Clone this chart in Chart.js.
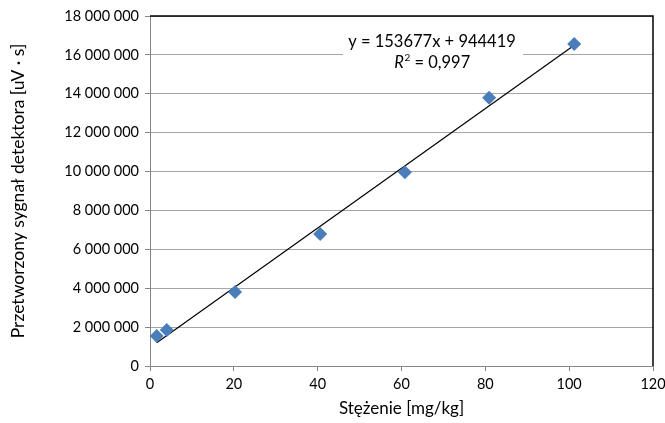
<!DOCTYPE html>
<html>
<head>
<meta charset="utf-8">
<script src="https://cdn.jsdelivr.net/npm/chart.js@4/dist/chart.umd.min.js"></script>
<style>
  html, body { margin: 0; padding: 0; background: #fff; }
  #wrap { width: 665px; height: 423px; }
</style>
</head>
<body>
<div id="wrap"><canvas id="myChart"></canvas></div>
<script>
// measured points (concentration vs detector signal)
const concX = [1.6, 4.0, 20.3, 40.6, 60.8, 80.9, 101.2];
const signalY = [1540000, 1850000, 3800000, 6790000, 9970000, 13800000, 16560000];
// trendline end points
const trendX = [1.6, 101.2];
const trendY = [1190000, 16500000];
const yTicks = [0, 2000000, 4000000, 6000000, 8000000, 10000000, 12000000, 14000000, 16000000, 18000000];
const eqLine1 = 'y = 153677x + 944419';
const eqLine2 = '0,997';

const FONT = 'Lato, "Open Sans", sans-serif';

function fmt(v) {
    return String(v).replace(/\B(?=(\d{3})+(?!\d))/g, ' ');
}

// black frame on top and right side of plot area
const framePlugin = {
    id: 'frame',
    afterDraw(chart) {
        const { ctx, chartArea: a } = chart;
        ctx.save();
        ctx.strokeStyle = '#000';
        ctx.lineWidth = 1.5;
        ctx.beginPath();
        ctx.moveTo(a.left, a.top);
        ctx.lineTo(a.right, a.top);
        ctx.lineTo(a.right, a.bottom);
        ctx.stroke();
        ctx.restore();
    }
};

// equation label on white box
const labelPlugin = {
    id: 'eqLabel',
    afterDatasetsDraw(chart) {
        const { ctx } = chart;
        const cx = 432, y1 = 42, y2 = 63;
        ctx.save();
        ctx.fillStyle = '#fff';
        ctx.fillRect(343, 30, 180, 44);
        ctx.fillStyle = '#000';
        ctx.font = '16.5px ' + FONT;
        ctx.textAlign = 'center';
        ctx.textBaseline = 'middle';
        ctx.fillText(eqLine1, cx, y1);
        // R² = 0,997 with italic R
        ctx.font = 'italic 16.5px ' + FONT;
        const wR = ctx.measureText('R').width;
        ctx.font = '10px ' + FONT;
        const wSup = ctx.measureText('2').width;
        ctx.font = '16.5px ' + FONT;
        const rest = ' = ' + eqLine2;
        const wRest = ctx.measureText(rest).width;
        let x = cx - (wR + wSup + wRest) / 2;
        ctx.textAlign = 'left';
        ctx.font = 'italic 16.5px ' + FONT;
        ctx.fillText('R', x, y2);
        x += wR + 0.5;
        ctx.font = '10px ' + FONT;
        ctx.fillText('2', x, y2 - 5);
        x += wSup;
        ctx.font = '16.5px ' + FONT;
        ctx.fillText(rest, x, y2);
        ctx.restore();
    }
};

const points = concX.map((x, i) => ({ x: x, y: signalY[i] }));
const trend = trendX.map((x, i) => ({ x: x, y: trendY[i] }));

new Chart(document.getElementById('myChart'), {
    type: 'scatter',
    data: {
        datasets: [{
            label: 'Dane',
            data: points,
            pointStyle: 'rectRot',
            pointRadius: 7,
            pointHoverRadius: 7,
            backgroundColor: '#4a7ebb',
            borderColor: '#4a7ebb',
            borderWidth: 0,
            order: 1
        }, {
            label: 'Trend',
            type: 'line',
            data: trend,
            borderColor: '#000',
            borderWidth: 1.2,
            pointRadius: 0,
            fill: false,
            order: 2
        }]
    },
    options: {
        responsive: true,
        maintainAspectRatio: false,
        animation: false,
        devicePixelRatio: 1,
        layout: { padding: { left: 8, top: 16, right: 12, bottom: 0 } },
        plugins: {
            legend: { display: false },
            tooltip: { enabled: false }
        },
        scales: {
            x: {
                type: 'linear',
                min: 0,
                max: 120,
                ticks: { stepSize: 20, color: '#000', font: { family: FONT, size: 14.5 }, padding: 5, maxRotation: 0 },
                grid: { drawOnChartArea: false, tickLength: 5, color: '#868686' },
                border: { color: '#868686', width: 1 },
                title: { display: true, text: 'Stężenie [mg/kg]', color: '#000', font: { family: FONT, size: 17 }, padding: { top: 1, bottom: 4 } },
                afterFit(s) { s.height = 57; s.paddingRight = 0; s.paddingLeft = 0; }
            },
            y: {
                type: 'linear',
                min: 0,
                max: 18000000,
                afterBuildTicks(s) { s.ticks = yTicks.map(v => ({ value: v })); },
                ticks: { color: '#000', font: { family: FONT, size: 14.5 }, padding: 6, callback: v => fmt(v) },
                grid: { color: '#a6a6a6', lineWidth: 1, tickLength: 5, tickColor: '#868686' },
                border: { color: '#868686', width: 1 },
                title: { display: true, text: 'Przetworzony sygnał detektora [uV · s]', color: '#000', font: { family: FONT, size: 17.5 }, padding: { top: 0, bottom: 4 } },
                afterFit(s) { s.width = 142; s.paddingTop = 0; s.paddingBottom = 0; }
            }
        }
    },
    plugins: [framePlugin, labelPlugin]
});
</script>
</body>
</html>
